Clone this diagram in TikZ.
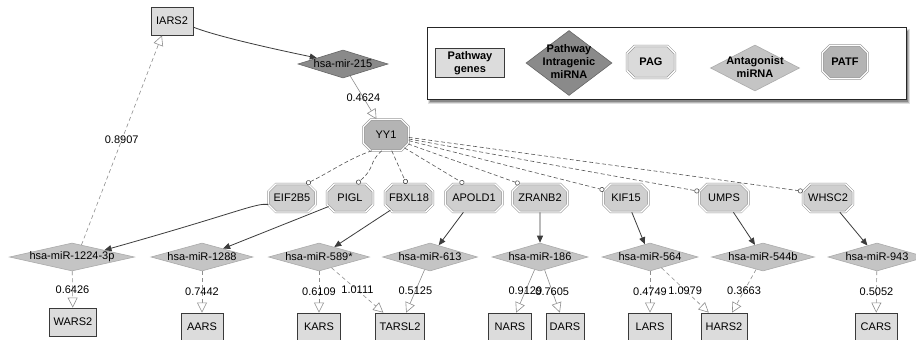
\documentclass[tikz,border=0pt]{standalone}
\usepackage{fontspec}
\setmainfont{Liberation Sans}
\usetikzlibrary{shapes.geometric,shapes.misc,arrows.meta}
\definecolor{genefill}{HTML}{DCDCDC}
\definecolor{geneline}{HTML}{3A3A3A}
\definecolor{darkmir}{HTML}{8A8A8A}
\definecolor{darkmirline}{HTML}{666666}
\definecolor{mirfill}{HTML}{C4C4C4}
\definecolor{mirline}{HTML}{ABABAB}
\definecolor{pagfill}{HTML}{CFCFCF}
\definecolor{paglegend}{HTML}{DADADA}
\definecolor{patffill}{HTML}{B4B4B4}
\definecolor{octline}{HTML}{8C8C8C}
\definecolor{tgtline}{HTML}{8E8E8E}
\definecolor{regline}{HTML}{3C3C3C}
\definecolor{tfline}{HTML}{555555}
\newcommand{\zw}[1]{\makebox[0pt]{#1}}
\begin{document}
\begin{tikzpicture}[x=1pt,y=-1pt,
  font=\fontsize{11}{13}\selectfont,
  lfont/.style={font=\fontsize{11}{13}\selectfont\bfseries},
  gene/.style={rectangle, draw=geneline, line width=0.8pt, fill=genefill, minimum width=#1, minimum height=28pt, inner sep=0pt},
  mir/.style={diamond, draw=mirline, line width=0.6pt, fill=mirfill, inner sep=0pt, minimum width=#1, minimum height=28pt},
  oct/.style={chamfered rectangle, chamfered rectangle xsep=6pt, draw=octline, line width=0.5pt, double=white, double distance=1.3pt, fill=pagfill, minimum width=#1, minimum height=28pt, inner sep=0pt},
  reg/.style={draw=regline, line width=0.8pt, -{Triangle[length=7pt,width=6pt]}},
  tgt/.style={draw=tgtline, line width=0.6pt, dash pattern=on 4pt off 3pt, -{Triangle[open,length=10pt,width=10pt,fill=white]}},
  tgts/.style={draw=tgtline, line width=0.6pt, -{Triangle[open,length=10pt,width=10pt,fill=white]}},
  tf/.style={draw=tfline, line width=0.6pt, dash pattern=on 4pt off 2.5pt, -{Circle[open,length=5pt,fill=white]}},
  lbl/.style={inner sep=0pt, text=black}
]
\clip (0,0) rectangle (916,340);
\fill[white] (0,0) rectangle (916,340);

% legend shadow
\fill[black, opacity=0.12] (428,29) rectangle (910,104);
\fill[black, opacity=0.18] (429,30) rectangle (909,103);
\fill[black, opacity=0.25] (430,31) rectangle (908,102);
% legend
\node[draw=black!85, line width=1pt, fill=white, minimum width=479pt, minimum height=72pt, inner sep=0pt] (legend) at (666.5,63) {};
\node[gene=69pt, minimum height=29pt, lfont, align=center] (lgene) at (470,63) {Pathway\\genes};
\node[mir=86pt, minimum height=65pt, fill=darkmir, draw=darkmirline, lfont] (lpim) at (569,63) {\zw{\begin{tabular}{@{}c@{}}Pathway\\Intragenic\\miRNA\end{tabular}}};
\node[oct=48pt, minimum height=32pt, fill=paglegend, lfont] (lpag) at (651,62) {PAG};
\node[mir=89pt, minimum height=46pt, lfont] (lanta) at (755,68) {\zw{\begin{tabular}{@{}c@{}}Antagonist\\miRNA\end{tabular}}};
\node[oct=45pt, minimum height=33pt, fill=patffill, lfont] (lpatf) at (845,62) {PATF};

% top
\node[gene=42pt] (iars) at (172,21) {IARS2};
\node[mir=90pt, fill=darkmir, draw=darkmirline] (m215) at (343,64) {\zw{hsa-mir-215}};
\node[oct=45pt, fill=patffill, minimum height=31pt] (yy1) at (386,135) {YY1};

% octagons
\node[oct=47pt] (eif) at (292,198) {EIF2B5};
\node[oct=46pt] (pigl) at (350,198) {PIGL};
\node[oct=48pt] (fbxl) at (409,198) {FBXL18};
\node[oct=57pt] (apold) at (474,198) {APOLD1};
\node[oct=55pt] (zranb) at (540,198) {ZRANB2};
\node[oct=45pt] (kif) at (626,198) {KIF15};
\node[oct=49pt] (umps) at (724,198) {UMPS};
\node[oct=50pt] (whsc) at (828,198) {WHSC2};

% diamonds
\node[mir=125pt] (m1224) at (72,257) {\zw{hsa-miR-1224-3p}};
\node[mir=102pt] (m1288) at (202,257) {\zw{hsa-miR-1288}};
\node[mir=101pt] (m589) at (319,257) {\zw{hsa-miR-589*}};
\node[mir=95pt] (m613) at (430,257) {\zw{hsa-miR-613}};
\node[mir=96pt] (m186) at (540,257) {\zw{hsa-miR-186}};
\node[mir=96pt] (m564) at (650,257) {\zw{hsa-miR-564}};
\node[mir=103pt] (m544) at (763,257) {\zw{hsa-miR-544b}};
\node[mir=98pt] (m943) at (877,257) {\zw{hsa-miR-943}};

% genes
\node[gene=47pt] (wars) at (73,322) {WARS2};
\node[gene=42pt] (aars) at (202,327) {AARS};
\node[gene=43pt] (kars) at (319,327) {KARS};
\node[gene=49pt] (tarsl) at (400,327) {TARSL2};
\node[gene=43pt] (nars) at (510,327) {NARS};
\node[gene=38pt] (dars) at (565,327) {DARS};
\node[gene=43pt] (lars) at (650,327) {LARS};
\node[gene=46pt] (hars) at (724,327) {HARS2};
\node[gene=42pt] (cars) at (876,327) {CARS};

% edges top
\draw[reg] (iars.-16) .. controls (205,32) and (240,42) .. (m215.167);
\draw[tgts] (m215) -- node[lbl] (l215) {0.4624} (yy1);
\draw[tgt] (m1224.52) -- node[lbl] (l8907) {0.8907} (iars.235);

% YY1 -> octagons
\draw[tf] (yy1.228) .. controls (350,158) and (330,172) .. (eif.45);
\draw[tf] (yy1.255) .. controls (368,163) and (376,167) .. (pigl.65);
\draw[tf] (yy1.290) -- (fbxl.100);
\draw[tf] (yy1.-35) -- (apold.125);
\draw[tf] (yy1.-22) -- (zranb.145);
\draw[tf] (yy1.-14) -- (kif.160);
\draw[tf] (yy1.-10) -- (umps.165);
\draw[tf] (yy1.-6) -- (whsc.165);

% octagons -> miRNAs
\draw[reg] (eif.195) .. controls (255,203) and (240,212) .. (m1224.12);
\draw[reg] (pigl) -- (m1288);
\draw[reg] (fbxl) -- (m589);
\draw[reg] (apold) -- (m613);
\draw[reg] (zranb) -- (m186);
\draw[reg] (kif) -- (m564);
\draw[reg] (umps) -- (m544);
\draw[reg] (whsc) -- (m943);

% miRNAs -> genes
\draw[tgt] (m1224) -- node[lbl] (la) {0.6426} (wars);
\draw[tgt] (m1288) -- node[lbl] (lb) {0.7442} (aars);
\draw[tgt] (m589) -- node[lbl] (lc) {0.6109} (kars);
\draw[tgt] (m589) -- node[lbl] (ld) {1.0111} (tarsl);
\draw[tgts] (m613) -- node[lbl] (le) {0.5125} (tarsl);
\draw[tgts] (m186) -- node[lbl] (lf) {0.9129} (nars);
\draw[tgts] (m186) -- node[lbl] (lg) {0.7605} (dars);
\draw[tgt] (m564) -- node[lbl] (lh) {0.4749} (lars);
\draw[tgt] (m564) -- node[lbl] (li) {1.0979} (hars);
\draw[tgt] (m544) -- node[lbl] (lj) {0.3663} (hars);
\draw[tgt] (m943) -- node[lbl] (lk) {0.5052} (cars);
\end{tikzpicture}
\end{document}
